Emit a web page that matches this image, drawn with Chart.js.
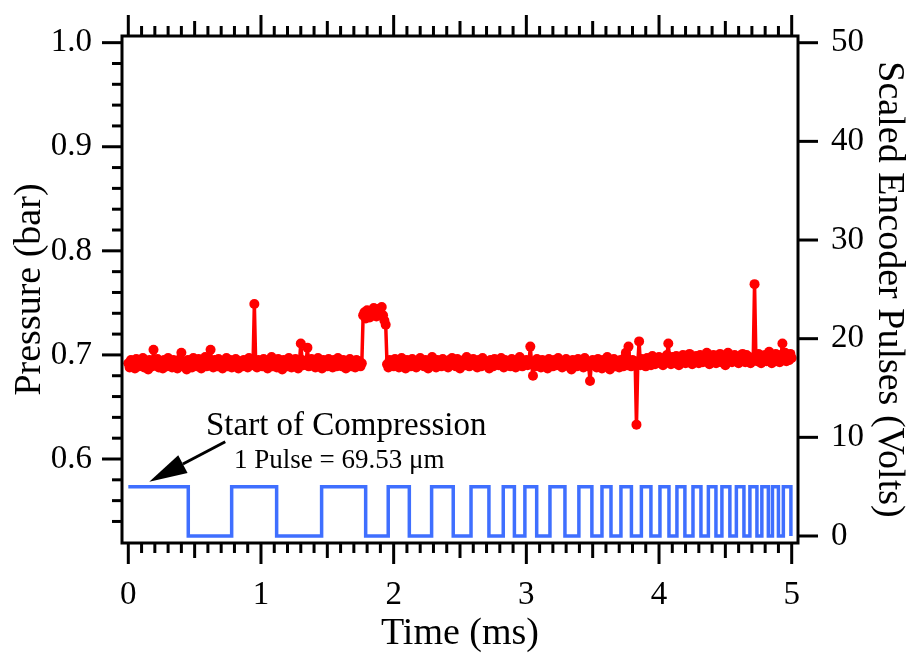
<!DOCTYPE html>
<html>
<head>
<meta charset="utf-8">
<script src="https://cdn.jsdelivr.net/npm/chart.js@4"></script>
<style>
  html, body { margin: 0; padding: 0; background: #fff; }
</style>
</head>
<body>
<canvas id="grafico" width="909" height="657"></canvas>
<script>
// pressure samples, one every sampleStep ms starting at 0
const sampleStep = 0.01;
const pressure = [
  0.692, 0.688, 0.695, 0.690, 0.693, 0.687, 0.696, 0.691, 0.689, 0.694, 0.690, 0.697, 0.688, 0.693, 0.691, 0.686, 0.695, 0.692, 0.689, 0.705,
  0.693, 0.690, 0.696, 0.688, 0.694, 0.691, 0.687, 0.695, 0.692, 0.689, 0.697, 0.690, 0.693, 0.688, 0.695, 0.691, 0.694, 0.687, 0.692, 0.696,
  0.702, 0.689, 0.693, 0.691, 0.686, 0.695, 0.690, 0.694, 0.688, 0.697, 0.691, 0.693, 0.689, 0.696, 0.690, 0.687, 0.694, 0.692, 0.698, 0.689,
  0.693, 0.690, 0.705, 0.691, 0.688, 0.695, 0.692, 0.689, 0.696, 0.690, 0.694, 0.687, 0.693, 0.691, 0.697, 0.689, 0.692, 0.695, 0.688, 0.694,
  0.690, 0.696, 0.691, 0.687, 0.694, 0.692, 0.689, 0.695, 0.690, 0.693, 0.688, 0.697, 0.691, 0.694, 0.690, 0.749, 0.692, 0.688, 0.695, 0.691,
  0.694, 0.689, 0.696, 0.690, 0.693, 0.687, 0.695, 0.691, 0.698, 0.689, 0.692, 0.694, 0.688, 0.696, 0.690, 0.693, 0.686, 0.695, 0.691, 0.694,
  0.689, 0.697, 0.692, 0.688, 0.694, 0.690, 0.696, 0.691, 0.687, 0.693, 0.711, 0.695, 0.690, 0.694, 0.692, 0.707, 0.689, 0.693, 0.696, 0.690,
  0.694, 0.688, 0.692, 0.697, 0.690, 0.693, 0.687, 0.695, 0.691, 0.694, 0.689, 0.696, 0.690, 0.693, 0.688, 0.695, 0.692, 0.689, 0.697, 0.691,
  0.693, 0.689, 0.695, 0.690, 0.687, 0.694, 0.692, 0.696, 0.689, 0.693, 0.691, 0.688, 0.695, 0.690, 0.694, 0.689, 0.692, 0.738, 0.741, 0.735,
  0.743, 0.739, 0.736, 0.742, 0.738, 0.745, 0.740, 0.737, 0.744, 0.739, 0.741, 0.746, 0.738, 0.733, 0.729, 0.691, 0.688, 0.695, 0.690, 0.693,
  0.689, 0.696, 0.691, 0.694, 0.688, 0.692, 0.697, 0.690, 0.693, 0.687, 0.695, 0.691, 0.694, 0.689, 0.696, 0.690, 0.693, 0.688, 0.694, 0.692,
  0.697, 0.690, 0.693, 0.689, 0.695, 0.691, 0.687, 0.694, 0.692, 0.698, 0.690, 0.693, 0.688, 0.695, 0.691, 0.694, 0.689, 0.696, 0.692, 0.690,
  0.694, 0.688, 0.695, 0.691, 0.697, 0.690, 0.693, 0.689, 0.696, 0.692, 0.687, 0.694, 0.691, 0.695, 0.690, 0.698, 0.692, 0.689, 0.694, 0.691,
  0.696, 0.690, 0.693, 0.688, 0.695, 0.692, 0.689, 0.697, 0.691, 0.694, 0.690, 0.693, 0.687, 0.695, 0.692, 0.689, 0.696, 0.691, 0.694, 0.690,
  0.693, 0.697, 0.691, 0.688, 0.695, 0.690, 0.694, 0.692, 0.689, 0.696, 0.691, 0.693, 0.688, 0.695, 0.690, 0.698, 0.692, 0.689, 0.694, 0.691,
  0.695, 0.690, 0.693, 0.708, 0.691, 0.680, 0.694, 0.689, 0.696, 0.691, 0.693, 0.688, 0.695, 0.690, 0.694, 0.692, 0.687, 0.696, 0.691, 0.693,
  0.689, 0.695, 0.692, 0.690, 0.697, 0.691, 0.694, 0.688, 0.693, 0.690, 0.696, 0.692, 0.689, 0.694, 0.686, 0.695, 0.691, 0.693, 0.689, 0.696,
  0.692, 0.690, 0.694, 0.688, 0.697, 0.691, 0.693, 0.689, 0.675, 0.692, 0.695, 0.690, 0.694, 0.688, 0.696, 0.691, 0.693, 0.687, 0.695, 0.690,
  0.694, 0.698, 0.691, 0.686, 0.693, 0.690, 0.696, 0.689, 0.694, 0.691, 0.688, 0.695, 0.692, 0.689, 0.697, 0.702, 0.690, 0.708, 0.693, 0.689,
  0.695, 0.691, 0.694, 0.633, 0.692, 0.713, 0.690, 0.696, 0.691, 0.694, 0.689, 0.697, 0.692, 0.695, 0.690, 0.699, 0.693, 0.691, 0.696, 0.694,
  0.698, 0.692, 0.695, 0.690, 0.697, 0.693, 0.700, 0.711, 0.694, 0.691, 0.698, 0.695, 0.692, 0.699, 0.694, 0.690, 0.697, 0.693, 0.700, 0.695,
  0.692, 0.698, 0.694, 0.701, 0.696, 0.691, 0.697, 0.693, 0.699, 0.695, 0.692, 0.700, 0.696, 0.693, 0.698, 0.694, 0.702, 0.695, 0.691, 0.697,
  0.694, 0.700, 0.696, 0.692, 0.699, 0.695, 0.701, 0.693, 0.698, 0.694, 0.690, 0.697, 0.702, 0.695, 0.699, 0.693, 0.697, 0.700, 0.694, 0.698,
  0.692, 0.699, 0.695, 0.701, 0.696, 0.693, 0.700, 0.694, 0.698, 0.692, 0.697, 0.695, 0.768, 0.699, 0.694, 0.701, 0.696, 0.692, 0.698, 0.695,
  0.700, 0.694, 0.697, 0.703, 0.696, 0.692, 0.699, 0.695, 0.701, 0.694, 0.698, 0.693, 0.700, 0.711, 0.696, 0.702, 0.694, 0.699, 0.695, 0.701,
  0.697
];

// encoder signal: time of each level change (ms) and the new level (V)
const pulseTimes = [
  0, 0.452, 0.779, 1.118, 1.457, 1.789, 1.959, 2.118, 2.286, 2.449,
  2.583, 2.718, 2.826, 2.910, 2.989, 3.078, 3.178, 3.291, 3.396, 3.494,
  3.570, 3.638, 3.713, 3.792, 3.867, 3.939, 4.007, 4.075, 4.135, 4.195,
  4.256, 4.316, 4.372, 4.429, 4.474, 4.534, 4.583, 4.640, 4.685, 4.738,
  4.775, 4.824, 4.855, 4.900, 4.937, 4.994
];
const pulseVolts = [
  5, 0, 5, 0, 5, 0, 5, 0, 5, 0,
  5, 0, 5, 0, 5, 0, 5, 0, 5, 0,
  5, 0, 5, 0, 5, 0, 5, 0, 5, 0,
  5, 0, 5, 0, 5, 0, 5, 0, 5, 0,
  5, 0, 5, 0, 5, 0
];

const timeTicks = [0, 1, 2, 3, 4, 5];
const pressureTicks = [0.6, 0.7, 0.8, 0.9, 1.0];
const voltTicks = [0, 10, 20, 30, 40, 50];

const serif = '"Liberation Serif", "Times New Roman", serif';
Chart.defaults.font.family = serif;
Chart.defaults.color = '#000';

// frame, tick marks and the arrow note
const decor = {
  id: 'decor',
  afterDraw(chart) {
    const { ctx, chartArea: a, scales } = chart;
    ctx.save();
    ctx.strokeStyle = '#000';
    ctx.lineWidth = 3;
    const seg = (x1, y1, x2, y2) => {
      ctx.beginPath(); ctx.moveTo(x1, y1); ctx.lineTo(x2, y2); ctx.stroke();
    };
    ctx.strokeRect(a.left, a.top, a.right - a.left, a.bottom - a.top);

    for (let k = 0; k <= 50; k++) {
      const px = scales.x.getPixelForValue(k / 10);
      const len = k % 10 === 0 ? 21 : (k % 5 === 0 ? 15 : 10);
      seg(px, a.bottom, px, a.bottom + len);
      seg(px, a.top, px, a.top - len);
    }
    for (let k = 27; k <= 50; k++) {
      const py = scales.y.getPixelForValue(k / 50);
      const len = k % 5 === 0 ? 20 : 10;
      seg(a.left - len, py, a.left, py);
    }
    voltTicks.forEach(v => {
      const py = scales.y1.getPixelForValue(v);
      seg(a.right, py, a.right + 20, py);
    });

    // arrow pointing at the first encoder level
    const tipX = scales.x.getPixelForValue(0.158);
    const tipY = scales.y1.getPixelForValue(5.5);
    const tailX = tipX + 76, tailY = tipY - 40;
    const ang = Math.atan2(tipY - tailY, tipX - tailX);
    const hl = 38, hw = 10;
    const bx = tipX - hl * Math.cos(ang), by = tipY - hl * Math.sin(ang);
    seg(tailX, tailY, bx, by);
    ctx.fillStyle = '#000';
    ctx.beginPath();
    ctx.moveTo(tipX, tipY);
    ctx.lineTo(bx + hw * Math.sin(ang), by - hw * Math.cos(ang));
    ctx.lineTo(bx - hw * Math.sin(ang), by + hw * Math.cos(ang));
    ctx.closePath();
    ctx.fill();

    ctx.textBaseline = 'alphabetic';
    ctx.textAlign = 'left';
    ctx.font = '33px ' + serif;
    ctx.fillText('Start of Compression', 206, 435);
    ctx.font = '27px ' + serif;
    ctx.fillText('1 Pulse = 69.53 \u03bcm', 234, 468);
    ctx.restore();
  }
};

// fixed box sizes so the plot frame lands where it should
const fixBox = (w, h) => s => {
  if (w) s.width = w;
  if (h) s.height = h;
  s.paddingTop = 0; s.paddingBottom = 0; s.paddingLeft = 0; s.paddingRight = 0;
};

const ctx = document.getElementById('grafico').getContext('2d');

new Chart(ctx, {
  type: 'line',
  data: {
    datasets: [
      {
        label: 'Pressure',
        data: pressure.map((p, i) => ({ x: i * sampleStep, y: p })),
        yAxisID: 'y',
        borderColor: '#ff0000',
        backgroundColor: '#ff0000',
        pointBackgroundColor: '#ff0000',
        borderWidth: 3.5,
        borderJoinStyle: 'round',
        borderCapStyle: 'round',
        pointRadius: 5,
        pointBorderWidth: 0,
        tension: 0
      },
      {
        label: 'Encoder',
        data: pulseTimes.map((t, i) => ({ x: t, y: pulseVolts[i] })),
        yAxisID: 'y1',
        stepped: 'before',
        borderColor: '#3f6fff',
        borderWidth: 3.5,
        pointRadius: 0
      }
    ]
  },
  options: {
    responsive: false,
    devicePixelRatio: 1,
    animation: false,
    layout: { padding: { top: 36, left: 0, right: 0, bottom: 0 } },
    plugins: { legend: { display: false }, tooltip: { enabled: false } },
    scales: {
      x: {
        type: 'linear',
        position: 'bottom',
        min: -0.0475,
        max: 5.0475,
        afterBuildTicks: s => { s.ticks = timeTicks.map(v => ({ value: v })); },
        afterFit: fixBox(0, 114),
        grid: { display: false, drawTicks: false },
        border: { display: false },
        ticks: { autoSkip: false, maxRotation: 0, padding: 36, font: { size: 33, lineHeight: 1 } },
        title: { display: true, text: 'Time (ms)', font: { size: 38, lineHeight: 1 }, padding: { top: 0, bottom: 4 } }
      },
      y: {
        type: 'linear',
        position: 'left',
        min: 0.5193,
        max: 1.0064,
        afterBuildTicks: s => { s.ticks = pressureTicks.map(v => ({ value: v })); },
        afterFit: fixBox(122, 0),
        grid: { display: false, drawTicks: false },
        border: { display: false },
        ticks: { padding: 30, font: { size: 33, lineHeight: 1 }, callback: v => v.toFixed(1) },
        title: { display: true, text: 'Pressure (bar)', font: { size: 38, lineHeight: 1 }, padding: { top: 11, bottom: 0 } }
      },
      y1: {
        type: 'linear',
        position: 'right',
        min: -0.71,
        max: 50.68,
        afterBuildTicks: s => { s.ticks = voltTicks.map(v => ({ value: v })); },
        afterFit: fixBox(111, 0),
        grid: { display: false, drawTicks: false },
        border: { display: false },
        ticks: { padding: 33, font: { size: 33, lineHeight: 1 } },
        title: { display: true, text: 'Scaled Encoder Pulses (Volts)', font: { size: 38, lineHeight: 1 }, padding: { top: 1, bottom: 0 } }
      }
    }
  },
  plugins: [decor]
});
</script>
</body>
</html>
